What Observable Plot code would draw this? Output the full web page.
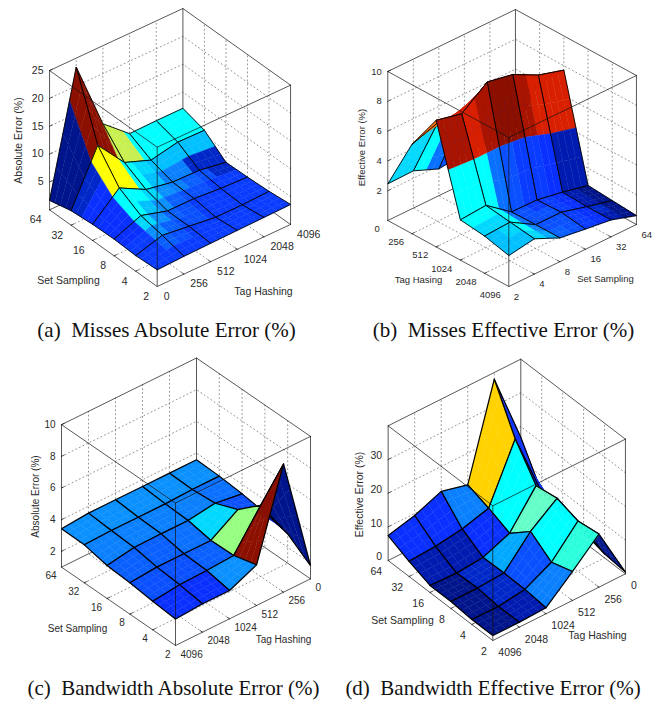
<!DOCTYPE html>
<html><head><meta charset="utf-8">
<style>html,body{margin:0;padding:0;background:#fff}svg{display:block}</style>
<script src="https://cdn.jsdelivr.net/npm/d3@7"></script>
<script src="https://cdn.jsdelivr.net/npm/@observablehq/plot@0.6"></script>
</head><body><div id="chart"></div>
<script>
const sets = [2,4,8,16,32,64];
const tags = [0,256,512,1024,2048,4096];
const tagsRev = [4096,2048,1024,512,256,0];

const palette = {n:"#00148c",m:"#001cb0",k:"#0028c8",b:"#0a30ff",e:"#0a3cff",f:"#0a50ff",g:"#0a60ff",h:"#0a70ff",i:"#0a80ff",j:"#0a90ff",l:"#00a8ff",o:"#00c0ff",p:"#00d8ff",q:"#00ffff",r:"#2cffdc",s:"#64ffc8",t:"#96ff82",u:"#c8f050",y:"#ffff00",v:"#ffd200",w:"#ff7000",x:"#d82000",z:"#a81400",d:"#8c1000"};

// rows: going left from the front corner; columns: going right from the front corner
const missesAbsZ = [
 [3,3.2,3.3,3.4,3.5,3.6],
 [2.8,4.2,3.6,3,3,3.2],
 [3,5,3.6,3.6,3.2,3],
 [2.9,7.2,4.7,3.8,3.7,2.9],
 [2.6,12.1,6.8,5,6,5.9],
 [1.7,23.4,11,7,7.1,7.1]];
const missesAbsC = ["eeeeeeeeee","eegfeeeeee","eejgffeeee","bbpjgfeeee","bbqojgffee","bbqqpjigfk","bbyyqoiikk","kkyyqpoooo","nndduuqqqq","nndduuqqqq"];

const missesEffZ = [
 [2.08,2.37,1.6,1.36,1.14,0.6],
 [2.5,2.6,1.6,1.6,1.14,0.72],
 [2.7,2.84,1.57,1.54,1.23,0.85],
 [8.5,8.1,9.4,9.07,8.2,7.7],
 [6,6.6,6.4,6,6,6],
 [2.46,2.5,1.8,2,2,2]];
const missesEffC = ["ooplgfebmn","opqiffebkn","ppqhffebmn","qqqhfeebmn","qqqhfeebmm","zzxzddzxxx","wwxzddzxxx","wwxzddzxxx","ppqhfeebmn","ppqhfeebmn"];

const bandAbsZ = [
 [2.68,2.79,2.79,3.57,9.1,1.84],
 [2.81,3,3.06,3.17,5.5,2.85],
 [2.98,3.13,3.13,3.13,4.24,3.2],
 [3.08,3.38,3.4,3.4,3.65,3.4],
 [3.4,3.46,3.46,3.46,3.53,3.53],
 [3.42,3.57,3.57,3.57,3.57,3.57]];
const bandAbsC = ["bbjdn","ffgtb","gghpf","iiiih","jjjjj"];

const bandEffZ = [
 [1.5,1.5,1.8,8.6,15.8,0.5],
 [1.5,1.4,2.5,6.6,14.9,1.2],
 [2.1,2.1,2.6,11,16.9,2.9],
 [2.1,1.8,2.5,5.7,15.9,4],
 [4.5,5,6.2,8.4,25,5.2],
 [7.4,9.4,12.6,10.6,38,16.8]];
const bandEffC = ["nmirn","nkfqn","nklsb","mmbqb","bbivb"];

const panels = [
 {z:missesAbsZ,c:missesAbsC,shiftV:0.5,uL:sets,vL:tags,zTicks:[5,10,15,20,25],zMin:0,zMax:25,zdy:0,
  x0:156.7,y0:286,ux:-21.53,uy:-15.33,vx:26.67,vy:-12.4,zs:5.573,mesh:0.9,font:10.5,
  zTitle:"Absolute Error (%)",zT:[18,140],uTitle:"Set Sampling",uT:[68,280],vTitle:"Tag Hashing",vT:[263,291],
  caption:"(a)\u00a0\u00a0Misses Absolute Error (%)",cap:[166,330],lab:[-8,10,6.5,10]},
 {z:missesEffZ,c:missesEffC,shiftV:0,uL:tagsRev,vL:sets,zTicks:[2,4,6,8,10],zMin:0,zMax:10,zdy:0,
  x0:508.3,y0:286,ux:-24.2,uy:-13.2,vx:25.53,vy:-12.4,zs:14.9,mesh:0.9,font:9.5,
  zTitle:"Effective Error (%)",zT:[361,147],uTitle:"Tag Hasing",uT:[418,279],vTitle:"Set Sampling",vT:[605,278],
  caption:"(b)\u00a0\u00a0Misses Effective Error (%)",cap:[503,330],lab:[-8,8.5,5,10]},
 {z:bandAbsZ,c:bandAbsC,shiftV:0,uL:sets,vL:tagsRev,zTicks:[2,4,6,8,10],zMin:1,zMax:10,zdy:0,
  x0:175,y0:645,ux:-22.8,uy:-15.67,vx:27,vy:-13.33,zs:15.83,mesh:1.2,font:10,
  zTitle:"Absolute Error (%)",zT:[35,496],uTitle:"Set Sampling",uT:[77,628],vTitle:"Tag Hashing",vT:[283,639],
  caption:"(c)\u00a0\u00a0Bandwidth Absolute Error (%)",cap:[173,688],lab:[-5,9,5,9]},
 {z:bandEffZ,c:bandEffC,shiftV:0,uL:sets,vL:tagsRev,zTicks:[0,10,20,30],zMin:0,zMax:40,zdy:-3.5,
  x0:492.3,y0:640,ux:-20.93,uy:-16,vx:26.53,vy:-13.33,zs:3.367,mesh:1.2,font:10.5,
  zTitle:"Effective Error (%)",zT:[359,494],uTitle:"Set Sampling",uT:[402,620],vTitle:"Tag Hashing",vT:[597,635],
  caption:"(d)\u00a0\u00a0Bandwidth Effective Error (%)",cap:[492.5,688],lab:[-6,11,5.5,12]}
];

const P = (p,u,v,z) => [p.x0+p.ux*u+p.vx*v, p.y0+p.uy*u+p.vy*v-(z-p.zMin)*p.zs];
function heightAt(p,u,v){
  const a=Math.min(Math.floor(u),4), b=Math.min(Math.floor(v),4), fu=u-a, fv=v-b, Z=p.z;
  return (1-fu)*((1-fv)*Z[a][b]+fv*Z[a][b+1])+fu*((1-fv)*Z[a+1][b]+fv*Z[a+1][b+1]);
}
const poly = (pts,o)=>Plot.line(pts,{x:d=>d[0],y:d=>d[1],...o});

const marks=[];
for(const p of panels){
  const base=(u,v,z)=>P(p,u,v,z), top=p.zMax, bot=p.zMin;
  const grid={stroke:"#666",strokeWidth:0.7,strokeDasharray:"1,3"};
  // dotted walls and floor
  for(let k=1;k<5;k++){
    marks.push(poly([base(k,0,bot),base(k,5,bot),base(k,5,top)],grid));
    marks.push(poly([base(0,k,bot),base(5,k,bot),base(5,k,top)],grid));
  }
  for(const t of p.zTicks) if(t>bot&&t<top) marks.push(poly([base(0,5,t),base(5,5,t),base(5,0,t)],grid));
  // back box edges
  const box={stroke:"#111",strokeWidth:0.7};
  marks.push(poly([base(5,0,top),base(5,5,top),base(0,5,top)],box));
  marks.push(poly([base(5,5,bot),base(5,5,top)],box));
  marks.push(poly([base(5,0,bot),base(5,5,bot),base(0,5,bot)],box));
  // surface, back to front
  const n=4, rpc=p.c.length/5;
  for(let cu=4;cu>=0;cu--) for(let cv=4;cv>=0;cv--){
    const quads=[]; let id=0;
    for(let a=n-1;a>=0;a--) for(let b=n-1;b>=0;b--){
      const u0=cu+a/n,u1=cu+(a+1)/n,v0=cv+b/n,v1=cv+(b+1)/n;
      const row=Math.min(p.c.length-1,Math.floor((u0+.5/n)*rpc));
      const col=Math.min(p.c.length-1,Math.max(0,Math.floor((v0+.5/n)*rpc+p.shiftV)));
      const shade=palette[p.c[row][col]]; id++;
      for(const [u,v] of [[u0,v0],[u1,v0],[u1,v1],[u0,v1]]){
        const q=P(p,u,v,heightAt(p,u,v));
        quads.push({x:q[0],y:q[1],id,col:shade});
      }
    }
    marks.push(Plot.line(quads,{x:"x",y:"y",z:"id",fill:"col",stroke:"col",strokeWidth:0.4,curve:"linear-closed"}));
    const out=[[cu,cv],[cu+1,cv],[cu+1,cv+1],[cu,cv+1],[cu,cv]].map(([u,v])=>P(p,u,v,p.z[u][v]));
    marks.push(poly(out,{stroke:"#000",strokeWidth:p.mesh}));
  }
  // front box edges
  marks.push(poly([base(5,0,top),base(0,0,top),base(0,5,top)],box));
  marks.push(poly([base(0,0,bot),base(0,0,top)],box));
  marks.push(poly([base(5,0,bot),base(5,0,top)],box));
  marks.push(poly([base(0,5,bot),base(0,5,top)],box));
  marks.push(poly([base(5,0,bot),base(0,0,bot),base(0,5,bot)],box));
  // ticks
  for(let k=1;k<5;k++){
    marks.push(poly([base(k,0,bot),base(k,0.1,bot)],box));
    marks.push(poly([base(0,k,bot),base(0.1,k,bot)],box));
  }
  for(const t of p.zTicks) if(t>bot) marks.push(poly([base(5,0,t),base(5,0.1,t)],box));
  // text
  const txt={fontFamily:"Liberation Sans",fontSize:p.font,fill:"#2a2a2a"};
  const [ldx,ldy,rdx,rdy]=p.lab;
  marks.push(Plot.text(p.uL,{x:(d,i)=>base(i,0,bot)[0],y:(d,i)=>base(i,0,bot)[1],text:d=>String(d),textAnchor:"end",dx:ldx,dy:ldy,...txt}));
  marks.push(Plot.text(p.vL,{x:(d,i)=>base(0,i,bot)[0],y:(d,i)=>base(0,i,bot)[1],text:d=>String(d),textAnchor:"start",dx:rdx,dy:rdy,...txt}));
  marks.push(Plot.text(p.zTicks,{x:d=>base(5,0,d)[0],y:d=>base(5,0,d)[1],text:d=>String(d),textAnchor:"end",dx:-6,dy:p.zdy,...txt}));
  const labels=[[p.uTitle,p.uT],[p.vTitle,p.vT]];
  marks.push(Plot.text(labels,{x:d=>d[1][0],y:d=>d[1][1],text:d=>d[0],...txt}));
  marks.push(Plot.text([p.zTitle],{x:()=>p.zT[0],y:()=>p.zT[1],text:d=>d,rotate:-90,...txt}));
  marks.push(Plot.text([p.caption],{x:()=>p.cap[0],y:()=>p.cap[1],text:d=>d,fontFamily:"Liberation Serif",fontSize:21,fill:"#111"}));
}
const chart=Plot.plot({width:660,height:703,margin:0,
  x:{domain:[0,660],range:[0,660],axis:null},
  y:{domain:[0,703],range:[0,703],axis:null},
  color:{type:"identity"},
  style:{background:"#fff"},
  marks});
document.getElementById("chart").append(chart);
</script></body></html>
